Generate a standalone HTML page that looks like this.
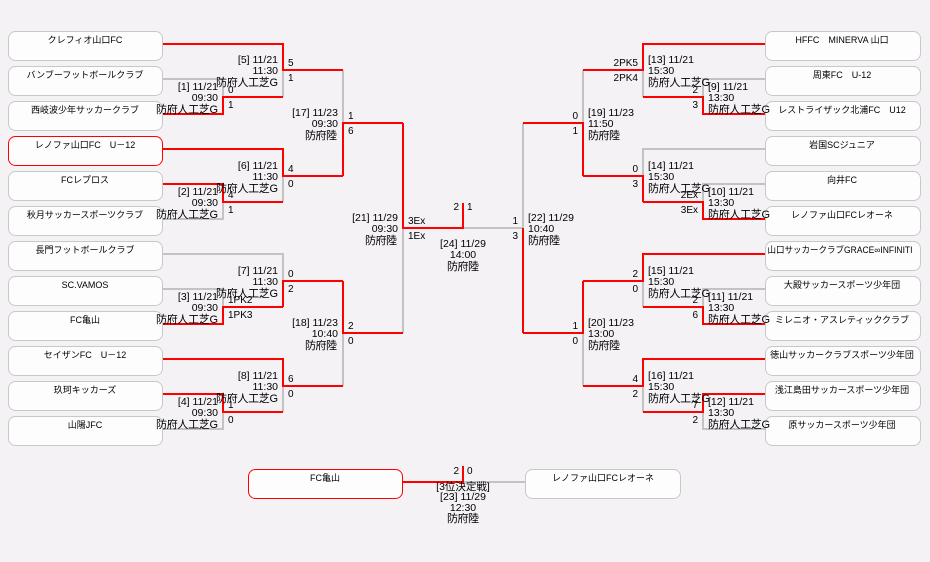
<!DOCTYPE html>
<html><head><meta charset="utf-8"><style>
html,body{margin:0;padding:0;background:#f4f2f5;}
svg{display:block;}
text{font-family:"Liberation Sans","Noto Sans CJK JP",sans-serif;fill:#000;}
.t{font-size:9px;text-anchor:middle;}
.s{font-size:10px;}
.l{font-size:10.5px;}
.k{font-size:11px;}
.e{text-anchor:end;}
.m{text-anchor:middle;}
.g{fill:none;stroke:#c3c3c3;stroke-width:2;}
.r{fill:none;stroke:#ff0000;stroke-width:2;}
.b{fill:#fdfdfd;stroke:#c8c8c8;stroke-width:1;}
.br{fill:#fdfdfd;stroke:#ff0000;stroke-width:1;}
</style></head><body>
<svg width="930" height="562" viewBox="0 0 930 562" xmlns="http://www.w3.org/2000/svg">
<rect width="930" height="562" fill="#f4f2f5"/>
<g>
<rect class="b" x="8.5" y="31.5" width="154" height="29" rx="7"/>
<rect class="b" x="8.5" y="66.5" width="154" height="29" rx="7"/>
<rect class="b" x="8.5" y="101.5" width="154" height="29" rx="7"/>
<rect class="br" x="8.5" y="136.5" width="154" height="29" rx="7"/>
<rect class="b" x="8.5" y="171.5" width="154" height="29" rx="7"/>
<rect class="b" x="8.5" y="206.5" width="154" height="29" rx="7"/>
<rect class="b" x="8.5" y="241.5" width="154" height="29" rx="7"/>
<rect class="b" x="8.5" y="276.5" width="154" height="29" rx="7"/>
<rect class="b" x="8.5" y="311.5" width="154" height="29" rx="7"/>
<rect class="b" x="8.5" y="346.5" width="154" height="29" rx="7"/>
<rect class="b" x="8.5" y="381.5" width="154" height="29" rx="7"/>
<rect class="b" x="8.5" y="416.5" width="154" height="29" rx="7"/>
</g>
<g>
<rect class="b" x="765.5" y="31.5" width="155" height="29" rx="7"/>
<rect class="b" x="765.5" y="66.5" width="155" height="29" rx="7"/>
<rect class="b" x="765.5" y="101.5" width="155" height="29" rx="7"/>
<rect class="b" x="765.5" y="136.5" width="155" height="29" rx="7"/>
<rect class="b" x="765.5" y="171.5" width="155" height="29" rx="7"/>
<rect class="b" x="765.5" y="206.5" width="155" height="29" rx="7"/>
<rect class="b" x="765.5" y="241.5" width="155" height="29" rx="7"/>
<rect class="b" x="765.5" y="276.5" width="155" height="29" rx="7"/>
<rect class="b" x="765.5" y="311.5" width="155" height="29" rx="7"/>
<rect class="b" x="765.5" y="346.5" width="155" height="29" rx="7"/>
<rect class="b" x="765.5" y="381.5" width="155" height="29" rx="7"/>
<rect class="b" x="765.5" y="416.5" width="155" height="29" rx="7"/>
</g>
<rect class="br" x="248.5" y="469.5" width="154" height="29" rx="7"/>
<rect class="b" x="525.5" y="469.5" width="155" height="29" rx="7"/>

<path class="g" d="M163,79H223V97 M283,97V70 M163,219H223V202 M283,202V176 M343,70V123
M163,289H223V307 M163,254H283V281 M163,429H223V412 M283,412V386 M343,386V333 M403,333V228
M765,79H703V97 M643,97V70 M765,184H703V202 M765,149H643V176 M583,70V123
M765,289H703V307 M643,307V281 M765,429H703V412 M643,412V386 M583,386V333
M523,123V228H463 M463,482H525"/>
<path class="r" d="M163,114H223V97H283 M163,44H283V70H343 M163,184H223V202H283 M163,149H283V176H343 M343,176V123H403
M163,324H223V307H283 M283,307V281H343 M163,394H223V412H283 M163,359H283V386H343 M343,281V333H403
M403,123V228H463V203
M765,114H703V97H643 M765,44H643V70H583 M765,219H703V202H643 M643,202V176H583 M583,176V123H523
M765,324H703V307H643 M765,254H643V281H583 M765,394H703V412H643 M765,359H643V386H583 M583,281V333H523 M523,333V228
M402,482H463V466"/>

<text class="t" x="85" y="43">クレフィオ山口FC</text>
<text class="t" x="85" y="78">バンブーフットボールクラブ</text>
<text class="t" x="85" y="113">西岐波少年サッカークラブ</text>
<text class="t" x="85" y="148">レノファ山口FC　U－12</text>
<text class="t" x="85" y="183">FCレプロス</text>
<text class="t" x="85" y="218">秋月サッカースポーツクラブ</text>
<text class="t" x="85" y="253">長門フットボールクラブ</text>
<text class="t" x="85" y="288">SC.VAMOS</text>
<text class="t" x="85" y="323">FC亀山</text>
<text class="t" x="85" y="358">セイザンFC　U－12</text>
<text class="t" x="85" y="393">玖珂キッカーズ</text>
<text class="t" x="85" y="428">山陽JFC</text>
<text class="t" x="842" y="43">HFFC　MINERVA 山口</text>
<text class="t" x="842" y="78">周東FC　U-12</text>
<text class="t" x="842" y="113">レストライザック北浦FC　U12</text>
<text class="t" x="842" y="148">岩国SCジュニア</text>
<text class="t" x="842" y="183">向井FC</text>
<text class="t" x="842" y="218">レノファ山口FCレオーネ</text>
<text class="t" x="840" y="253" textLength="145" lengthAdjust="spacingAndGlyphs">山口サッカークラブGRACE∞INFINITI</text>
<text class="t" x="842" y="288">大殿サッカースポーツ少年団</text>
<text class="t" x="842" y="323">ミレニオ・アスレティッククラブ</text>
<text class="t" x="842" y="358">徳山サッカークラブスポーツ少年団</text>
<text class="t" x="842" y="393">浅江島田サッカースポーツ少年団</text>
<text class="t" x="842" y="428">原サッカースポーツ少年団</text>
<text class="t" x="325" y="481">FC亀山</text>
<text class="t" x="603" y="481">レノファ山口FCレオーネ</text>

<text class="l e" x="218" y="90">[1] 11/21</text><text class="l e" x="218" y="101">09:30</text><text class="k" x="156" y="113" textLength="62" lengthAdjust="spacing">防府人工芝G</text>
<text class="l e" x="278" y="63">[5] 11/21</text><text class="l e" x="278" y="74">11:30</text><text class="k" x="216" y="86" textLength="62" lengthAdjust="spacing">防府人工芝G</text>
<text class="l e" x="218" y="195">[2] 11/21</text><text class="l e" x="218" y="206">09:30</text><text class="k" x="156" y="218" textLength="62" lengthAdjust="spacing">防府人工芝G</text>
<text class="l e" x="278" y="169">[6] 11/21</text><text class="l e" x="278" y="180">11:30</text><text class="k" x="216" y="192" textLength="62" lengthAdjust="spacing">防府人工芝G</text>
<text class="l e" x="338" y="116">[17] 11/23</text><text class="l e" x="338" y="127">09:30</text><text class="k" x="305" y="139" textLength="32" lengthAdjust="spacing">防府陸</text>
<text class="l e" x="218" y="300">[3] 11/21</text><text class="l e" x="218" y="311">09:30</text><text class="k" x="156" y="323" textLength="62" lengthAdjust="spacing">防府人工芝G</text>
<text class="l e" x="278" y="274">[7] 11/21</text><text class="l e" x="278" y="285">11:30</text><text class="k" x="216" y="297" textLength="62" lengthAdjust="spacing">防府人工芝G</text>
<text class="l e" x="218" y="405">[4] 11/21</text><text class="l e" x="218" y="416">09:30</text><text class="k" x="156" y="428" textLength="62" lengthAdjust="spacing">防府人工芝G</text>
<text class="l e" x="278" y="379">[8] 11/21</text><text class="l e" x="278" y="390">11:30</text><text class="k" x="216" y="402" textLength="62" lengthAdjust="spacing">防府人工芝G</text>
<text class="l e" x="338" y="326">[18] 11/23</text><text class="l e" x="338" y="337">10:40</text><text class="k" x="305" y="349" textLength="32" lengthAdjust="spacing">防府陸</text>
<text class="l e" x="398" y="221">[21] 11/29</text><text class="l e" x="398" y="232">09:30</text><text class="k" x="365" y="244" textLength="32" lengthAdjust="spacing">防府陸</text>

<text class="l" x="708" y="90">[9] 11/21</text><text class="l" x="708" y="101">13:30</text><text class="k" x="708" y="113" textLength="62" lengthAdjust="spacing">防府人工芝G</text>
<text class="l" x="648" y="63">[13] 11/21</text><text class="l" x="648" y="74">15:30</text><text class="k" x="648" y="86" textLength="62" lengthAdjust="spacing">防府人工芝G</text>
<text class="l" x="708" y="195">[10] 11/21</text><text class="l" x="708" y="206">13:30</text><text class="k" x="708" y="218" textLength="62" lengthAdjust="spacing">防府人工芝G</text>
<text class="l" x="648" y="169">[14] 11/21</text><text class="l" x="648" y="180">15:30</text><text class="k" x="648" y="192" textLength="62" lengthAdjust="spacing">防府人工芝G</text>
<text class="l" x="588" y="116">[19] 11/23</text><text class="l" x="588" y="127">11:50</text><text class="k" x="588" y="139" textLength="32" lengthAdjust="spacing">防府陸</text>
<text class="l" x="708" y="300">[11] 11/21</text><text class="l" x="708" y="311">13:30</text><text class="k" x="708" y="323" textLength="62" lengthAdjust="spacing">防府人工芝G</text>
<text class="l" x="648" y="274">[15] 11/21</text><text class="l" x="648" y="285">15:30</text><text class="k" x="648" y="297" textLength="62" lengthAdjust="spacing">防府人工芝G</text>
<text class="l" x="708" y="405">[12] 11/21</text><text class="l" x="708" y="416">13:30</text><text class="k" x="708" y="428" textLength="62" lengthAdjust="spacing">防府人工芝G</text>
<text class="l" x="648" y="379">[16] 11/21</text><text class="l" x="648" y="390">15:30</text><text class="k" x="648" y="402" textLength="62" lengthAdjust="spacing">防府人工芝G</text>
<text class="l" x="588" y="326">[20] 11/23</text><text class="l" x="588" y="337">13:00</text><text class="k" x="588" y="349" textLength="32" lengthAdjust="spacing">防府陸</text>
<text class="l" x="528" y="221">[22] 11/29</text><text class="l" x="528" y="232">10:40</text><text class="k" x="528" y="244" textLength="32" lengthAdjust="spacing">防府陸</text>

<text class="l m" x="463" y="247">[24] 11/29</text><text class="l m" x="463" y="258">14:00</text><text class="k" x="447" y="270" textLength="32" lengthAdjust="spacing">防府陸</text>
<text class="s e" x="459" y="210">2</text><text class="s" x="467" y="210">1</text>
<text class="s e" x="459" y="474">2</text><text class="s" x="467" y="474">0</text>
<text class="l m" x="463" y="490">[3位決定戦]</text>
<text class="l m" x="463" y="500">[23] 11/29</text>
<text class="l m" x="463" y="511">12:30</text>
<text class="k" x="447" y="522" textLength="32" lengthAdjust="spacing">防府陸</text>

<text class="s" x="228" y="93">0</text><text class="s" x="228" y="108">1</text>
<text class="s" x="288" y="66">5</text><text class="s" x="288" y="81">1</text>
<text class="s" x="228" y="198">4</text><text class="s" x="228" y="213">1</text>
<text class="s" x="288" y="172">4</text><text class="s" x="288" y="187">0</text>
<text class="s" x="348" y="119">1</text><text class="s" x="348" y="134">6</text>
<text class="s" x="228" y="303">1PK2</text><text class="s" x="228" y="318">1PK3</text>
<text class="s" x="288" y="277">0</text><text class="s" x="288" y="292">2</text>
<text class="s" x="228" y="408">1</text><text class="s" x="228" y="423">0</text>
<text class="s" x="288" y="382">6</text><text class="s" x="288" y="397">0</text>
<text class="s" x="348" y="329">2</text><text class="s" x="348" y="344">0</text>
<text class="s" x="408" y="224">3Ex</text><text class="s" x="408" y="239">1Ex</text>
<text class="s e" x="698" y="93">2</text><text class="s e" x="698" y="108">3</text>
<text class="s e" x="638" y="66">2PK5</text><text class="s e" x="638" y="81">2PK4</text>
<text class="s e" x="698" y="198">2Ex</text><text class="s e" x="698" y="213">3Ex</text>
<text class="s e" x="638" y="172">0</text><text class="s e" x="638" y="187">3</text>
<text class="s e" x="578" y="119">0</text><text class="s e" x="578" y="134">1</text>
<text class="s e" x="698" y="303">2</text><text class="s e" x="698" y="318">6</text>
<text class="s e" x="638" y="277">2</text><text class="s e" x="638" y="292">0</text>
<text class="s e" x="698" y="408">7</text><text class="s e" x="698" y="423">2</text>
<text class="s e" x="638" y="382">4</text><text class="s e" x="638" y="397">2</text>
<text class="s e" x="578" y="329">1</text><text class="s e" x="578" y="344">0</text>
<text class="s e" x="518" y="224">1</text><text class="s e" x="518" y="239">3</text>
</svg>
</body></html>
